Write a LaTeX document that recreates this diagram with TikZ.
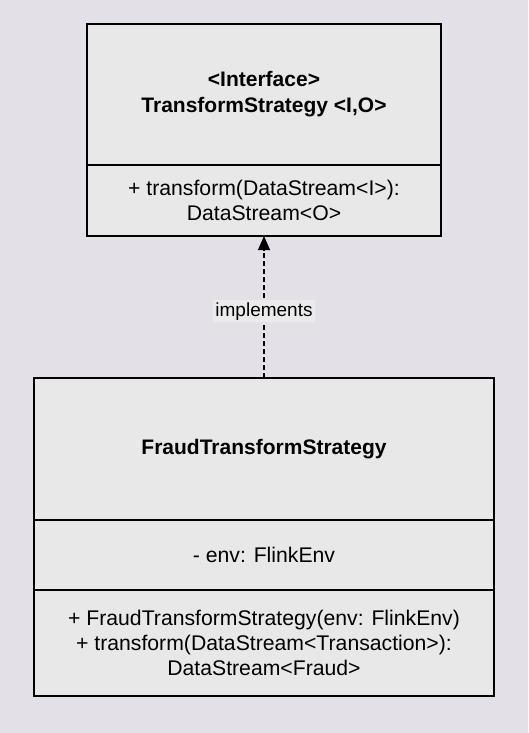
\documentclass[tikz,border=0pt]{standalone}
\usepackage{fontspec}
\setmainfont{Liberation Sans}
\usetikzlibrary{arrows.meta,positioning}
\definecolor{pagebg}{HTML}{E3E1E7}
\definecolor{boxfill}{HTML}{E8E8E8}
\definecolor{tagfill}{HTML}{EBEBEB}
\tikzset{
  part/.style={draw=black, line width=1.2pt, fill=boxfill, align=center,
    inner sep=0pt, outer sep=0pt, font=\fontsize{21.2}{25}\selectfont},
  parthead/.style={part, font=\fontsize{21}{26}\selectfont\bfseries},
  realizes/.style={dash pattern=on 5pt off 3pt, line width=1.2pt, -{Triangle[width=12pt,length=14pt]}},
  tag/.style={fill=tagfill, inner sep=2pt, font=\fontsize{19}{21}\selectfont}
}
\begin{document}
\begin{tikzpicture}[x=1pt,y=-1pt]
  \fill[pagebg] (0,0) rectangle (528,733);
  \useasboundingbox (0,0) rectangle (528,733);

  % interface
  \node[parthead, minimum width=354pt, minimum height=141pt] (ifacehead) at (264,94.5)
    {<Interface>\\TransformStrategy <I,O>};
  \node[part, minimum width=354pt, minimum height=71pt, below=0pt of ifacehead] (ifaceops)
    {+ transform(DataStream<I>):\\DataStream<O>};

  % implementing class
  \node[parthead, minimum width=460pt, minimum height=142pt] (fraudhead) at (264,449)
    {FraudTransformStrategy};
  \node[part, minimum width=460pt, minimum height=70pt, below=0pt of fraudhead] (fraudattr)
    {- env: FlinkEnv};
  \node[part, minimum width=460pt, minimum height=106pt, below=0pt of fraudattr] (fraudops)
    {+ FraudTransformStrategy(env: FlinkEnv)\\+ transform(DataStream<Transaction>):\\DataStream<Fraud>};

  \draw[realizes] (fraudhead.north) -- node[tag, pos=0.47] {implements} (ifaceops.south);
\end{tikzpicture}
\end{document}
